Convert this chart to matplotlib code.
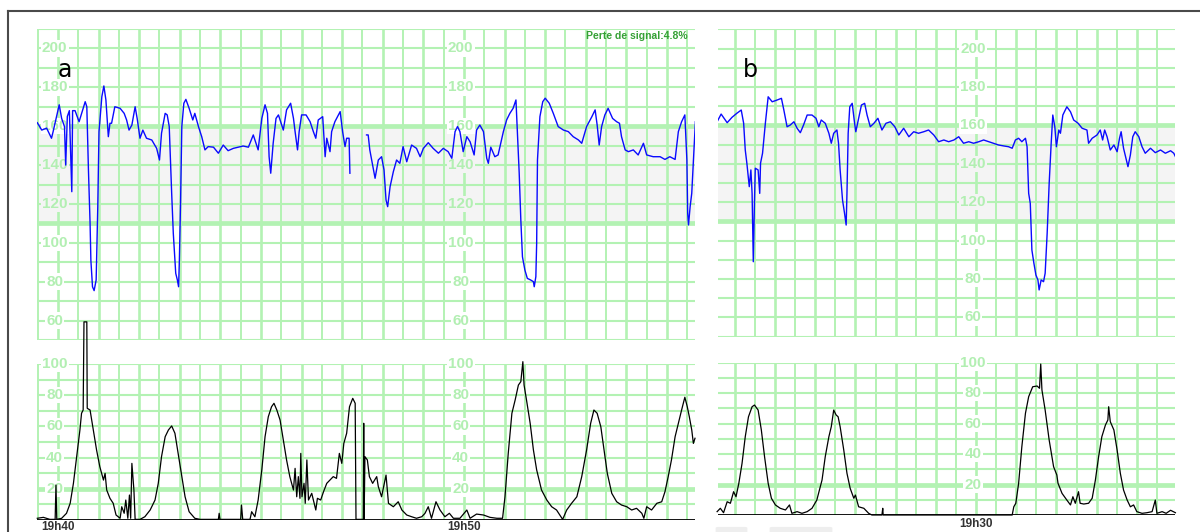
import numpy as np
import matplotlib
matplotlib.use('Agg')
import matplotlib.pyplot as plt
from matplotlib import transforms
from matplotlib.lines import Line2D
from matplotlib.patches import FancyBboxPatch

W, H = 1200, 532
GRID = '#b3f2b3'
LABEL = '#b2efb2'
BAND = '#f4f4f4'
FONT = 'Liberation Sans'

# ---- panel a : time in minutes after 19h40 ----
fhr_a_t = [-0.51, -0.40, -0.28, -0.16, -0.12, 0.03, 0.09, 0.16, 0.19, 0.19, 0.23, 0.28, 0.31, 0.34,
           0.36, 0.42, 0.52, 0.67, 0.71, 0.75, 0.79, 0.81, 0.85, 0.89, 0.94, 0.98, 1.01, 1.08, 1.13,
           1.18, 1.24, 1.28, 1.32, 1.40, 1.53, 1.63, 1.69, 1.75, 1.82, 1.90, 1.95, 2.02, 2.09, 2.18,
           2.31, 2.43, 2.50, 2.55, 2.64, 2.69, 2.74, 2.80, 2.84, 2.90, 2.94, 2.97, 2.99, 3.02, 3.05,
           3.10, 3.15, 3.23, 3.32, 3.37, 3.46, 3.54, 3.62, 3.70, 3.83, 3.95, 4.07, 4.19, 4.32, 4.44,
           4.56, 4.69, 4.81, 4.93, 5.02, 5.10, 5.16, 5.20, 5.24, 5.30, 5.37, 5.43, 5.51, 5.55, 5.63,
           5.73, 5.80, 5.84, 5.90, 5.94, 6.00, 6.11, 6.21, 6.29, 6.35, 6.41, 6.52, 6.58, 6.62, 6.70,
           6.74, 6.82, 6.95, 7.01, 7.07, 7.11, 7.17, 7.19, 7.40,
           7.60, 7.64, 7.68, 7.81, 7.89, 7.97, 8.03, 8.08, 8.12, 8.18, 8.26, 8.34, 8.42, 8.50, 8.59,
           8.71, 8.83, 8.92, 9.00, 9.12, 9.24, 9.37, 9.49, 9.61, 9.70, 9.78, 9.84, 9.90, 9.98, 10.07,
           10.15, 10.25, 10.31, 10.39, 10.48, 10.56, 10.60, 10.66, 10.76, 10.84, 10.97, 11.05, 11.13,
           11.21, 11.28, 11.31, 11.36, 11.40, 11.44, 11.50, 11.56, 11.64, 11.71, 11.73, 11.77, 11.79,
           11.81, 11.87, 11.94, 12.00, 12.10, 12.20, 12.32, 12.45, 12.57, 12.69, 12.82, 12.90, 13.02,
           13.15, 13.23, 13.28, 13.33, 13.39, 13.47, 13.55, 13.66, 13.76, 13.83, 13.88, 13.97, 14.05,
           14.17, 14.29, 14.42, 14.50, 14.66, 14.83, 14.95, 15.07, 15.20, 15.28, 15.36, 15.44, 15.49,
           15.51, 15.53, 15.57, 15.61, 15.66, 15.70]
fhr_a_v = [161.8, 158, 159, 153.8, 157.2, 171, 164, 159.8, 140, 140, 165, 168, 147.8, 126.3,
           168, 168, 162.3, 172.6, 170, 137.5, 110.2, 91, 77.4, 75.4, 80.9, 118.6, 157.2, 175.2, 180.7,
           173.5, 154.6, 161.5, 161.5, 170, 169.2, 166.6, 163.2, 158, 160.6, 170, 164, 153.8, 158, 153.8,
           152.9, 148.6, 142.6, 156.4, 166.6, 165.8, 159.8, 125.5, 104.9, 84.3, 80.9, 77.4, 91.1, 122, 159.8,
           171.8, 173.8, 169.2, 163.2, 166.6, 159.8, 154.6, 147.8, 149.5, 149.2, 146.1, 150.3, 147.4, 148.6, 149.2,
           149.8, 149.2, 155.5, 147.8, 164, 171, 166.6, 144.3, 135.8, 151.2, 164, 165.8, 160.6, 158, 168.4,
           171.8, 164, 157.2, 147.8, 157.2, 165.8, 165.8, 162.3, 157.2, 153.8, 163.2, 164.9, 144.3, 153.8, 146.9,
           157.2, 162.3, 167.5, 157.2, 149.5, 153.8, 153.8, 135.8, np.nan,
           155.5, 155.5, 147.8, 133.2, 142.6, 144.3, 137.5, 122, 118.6, 128.9, 136.6, 142.6, 140.9, 149.5, 141.7,
           150.3, 148.6, 144.3, 148.6, 151.5, 148.6, 146.1, 148.6, 146.9, 143.5, 157.2, 159.8, 157.2, 146.9, 154.6,
           152, 145.2, 158, 160.6, 157.2, 143.5, 140.9, 149.2, 144.3, 145.2, 157.2, 163.2, 166.6,
           169.2, 173.5, 159.8, 135.8, 111.7, 92.8, 86, 81.7, 80.9, 80, 77.4, 82.6, 99.7,
           142.6, 164.9, 172.6, 174.4, 171.8, 166.6, 159.8, 158, 157.2, 154.6, 152.9, 151.2, 159.8,
           164.9, 168.4, 160.6, 150.3, 159.8, 165.8, 169.2, 164, 162.3, 161.5, 154.6, 147.8, 146.9,
           147.8, 145.2, 151.2, 145.2, 144.3, 144.3, 142.9, 144.3, 142.9, 157.2, 162.3, 165.8, 142.6,
           115.2, 109.2, 118.6, 125.5, 146.1, 162.3]

uc_a_t = [-0.51, -0.36, -0.20, -0.07, -0.05, -0.03, 0.09, 0.21, 0.30, 0.38, 0.46, 0.54, 0.58, 0.62,
          0.64, 0.71, 0.72, 0.79, 0.87, 0.95, 1.03, 1.12, 1.16, 1.20, 1.28, 1.36, 1.43, 1.53, 1.57,
          1.63, 1.67, 1.72, 1.76, 1.79, 1.82, 1.87, 1.90, 2.02, 2.14, 2.27, 2.39, 2.47, 2.55, 2.64,
          2.72, 2.80, 2.88, 2.96, 3.05, 3.13, 3.23, 3.37, 3.50, 3.95, 3.97, 3.99, 4.50, 4.52, 4.55,
          4.73, 4.77, 4.85, 4.93, 5.02, 5.10, 5.18, 5.26, 5.32, 5.39, 5.47, 5.55, 5.63, 5.71, 5.80,
          5.84, 5.88, 5.92, 5.96, 5.98, 6.01, 6.06, 6.09, 6.13, 6.17, 6.25, 6.31, 6.35, 6.39, 6.47,
          6.54, 6.62, 6.70, 6.78, 6.86, 6.93, 6.99, 7.04, 7.11, 7.18, 7.26, 7.32, 7.34, 7.52, 7.53,
          7.54, 7.56, 7.62, 7.67, 7.75, 7.85, 7.89, 7.97, 8.08, 8.14, 8.26, 8.38, 8.47, 8.59, 8.71,
          8.83, 8.96, 9.04, 9.12, 9.20, 9.31, 9.41, 9.53, 9.64, 9.74, 9.90, 10.07, 10.15, 10.31,
          10.48, 10.64, 10.81, 10.95, 11.01, 11.09, 11.18, 11.26, 11.34, 11.40, 11.45, 11.48, 11.54,
          11.63, 11.71, 11.79, 11.91, 12.04, 12.16, 12.28, 12.43, 12.53, 12.65, 12.78, 12.90, 13.02,
          13.12, 13.20, 13.28, 13.37, 13.45, 13.53, 13.64, 13.76, 13.88, 14.01, 14.13, 14.25, 14.38,
          14.43, 14.50, 14.62, 14.75, 14.87, 14.95, 15.03, 15.11, 15.20, 15.28, 15.36, 15.44, 15.50,
          15.55, 15.61, 15.65, 15.69]
uc_a_v = [1.1, 1.7, 0.4, 0.4, 22.4, 0.4, 1.1, 4.3, 10.7, 23.5, 40.6, 57.7, 68.4, 70.5,
          127, 127, 71.6, 70.5, 57.7, 44.9, 34.2, 25.6, 29.9, 19.2, 13.9, 10.7, 3.2, 1.1, 8.5,
          4.3, 12.8, 1.1, 16, 1.1, 36.3, 19.2, 0.4, 0.4, 2.1, 6.4, 12.8, 23.5, 40.6, 53.4,
          57.7, 60.3, 55.6, 42.7, 27.8, 14.9, 5.3, 1.1, 0.4, 0.4, 4.3, 0.4, 0.4, 9.6, 0.4,
          0.4, 5.3, 2.1, 12.8, 32.1, 53.4, 66.2, 72.6, 74.8, 70.5, 64.1, 51.3, 38.5, 27.8, 19.2,
          33.1, 14.9, 27.8, 13.9, 42.7, 14.9, 23.5, 10.7, 38.5, 12.8, 17.1, 10.7, 6.4, 13.9, 12.8,
          18.1, 23.5, 25.6, 27.8, 26.7, 42.7, 36.3, 49.1, 55.6, 72.6, 78, 74.8, 0.4, 0.4, 62,
          0.4, 40.6, 38.5, 27.8, 23.5, 27.8, 21.4, 14.9, 28.8, 10.7, 8.5, 11.7, 6.4, 3.2, 2.1,
          1.1, 2.1, 4.3, 8.5, 1.1, 11.7, 6.4, 2.1, 4.3, 1.1, 1.1, 6.4, 1.1, 3.8,
          3.2, 1.7, 1.1, 1.1, 14.9, 42.7, 68.4, 76.9, 86.5, 88.7, 101.5, 86.5, 76.9,
          62, 44.9, 32.1, 19.2, 12.8, 8.5, 6.4, 0.4, 6.4, 10.7, 14.9, 27.8, 44.9,
          62, 70.5, 68.4, 59.8, 44.9, 29.9, 17.1, 11.7, 9.6, 8.5, 6.4, 7.5, 4.3,
          1.1, 8.5, 6.4, 10.7, 11.7, 18.1, 27.8, 38.5, 53.4, 62, 70.5, 78.7, 72.6,
          66.2, 57.7, 49.1, 52.4]

# ---- panel b : time in minutes relative to 19h30 ----
fhr_b_t = [-6.44, -6.34, -6.19, -6.07, -5.95, -5.84, -5.78, -5.74, -5.70, -5.64, -5.60, -5.57, -5.54,
           -5.51, -5.49, -5.42, -5.38, -5.36, -5.31, -5.24, -5.17, -5.07, -4.95, -4.84, -4.78, -4.70,
           -4.62, -4.53, -4.45, -4.37, -4.29, -4.20, -4.08, -3.98, -3.91, -3.85, -3.75, -3.66, -3.60,
           -3.54, -3.46, -3.42, -3.38, -3.32, -3.27, -3.23, -3.21, -3.18, -3.14, -3.08, -3.02, -2.99,
           -2.92, -2.85, -2.77, -2.71, -2.63, -2.54, -2.44, -2.34, -2.24, -2.13, -2.02, -1.92, -1.80,
           -1.67, -1.55, -1.43, -1.30, -1.18, -1.05, -0.93, -0.80, -0.68, -0.55, -0.43, -0.31, -0.18,
           -0.06, 0.07, 0.19, 0.32, 0.44, 0.56, 0.69, 0.81, 0.90, 0.98, 1.06, 1.14, 1.23, 1.27,
           1.31, 1.35, 1.39, 1.44, 1.49, 1.54, 1.57, 1.62, 1.68, 1.72, 1.77, 1.82, 1.87, 1.91,
           1.96, 2.00, 2.06, 2.10, 2.16, 2.26, 2.35, 2.43, 2.54, 2.64, 2.76, 2.80, 2.89, 3.01,
           3.09, 3.15, 3.20, 3.26, 3.34, 3.43, 3.51, 3.57, 3.61, 3.67, 3.73, 3.78, 3.84, 3.90,
           3.96, 4.05, 4.13, 4.21, 4.34, 4.46, 4.59, 4.71, 4.84, 4.92, 4.98]
fhr_b_v = [161.9, 165.9, 161.4, 164.2, 166.3, 168, 161.1, 147.2, 140.3, 128.1, 136.8, 124.6, 89,
           121.1, 137.7, 136.8, 124.6, 140.3, 145.5, 161.1, 174.9, 172.3, 173.2, 174.1, 168, 159.3,
           160.2, 161.9, 158.5, 156.2, 160.2, 165.4, 165.4, 163.7, 159.3, 162.8, 161.1, 155.9, 150.7,
           155.9, 157.6, 150.7, 136.8, 121.1, 114.2, 108.1, 124.6, 155.9, 169.7, 171.5, 161.1, 156.7,
           163.7, 170.6, 171.5, 165.4, 159.3, 161.1, 163.7, 157.6, 161.1, 161.9, 159.3, 155, 158.5,
           154.1, 156.7, 155.9, 156.7, 157.6, 155, 151.5, 152.4, 151.5, 152.4, 154.1, 150.7, 151.5,
           150.7, 151.5, 152.4, 151.5, 150.7, 149.8, 149.3, 148.9, 148.1, 152.4, 153.3, 151.5, 153.3, 148.9,
           124.6, 119.4, 95.1, 88.2, 82.1, 79.5, 74.3, 79.5, 78.6, 83, 103.8, 129.8, 150.7, 165.4,
           159.3, 148.9, 157.6, 155.9, 165.4, 169.7, 167.1, 162.8, 161.1, 158.5, 157.6, 150.7, 153.3, 155,
           157.6, 152.4, 157.6, 154.1, 147.2, 149.8, 146.3, 153.3, 156.7, 148.1, 142.9, 138.5, 144.6, 154.1,
           156.7, 154.1, 148.9, 145.5, 148.1, 145.8, 147.2, 145.5, 146.8, 145.5, 142.9]

uc_b_t = [-6.44, -6.36, -6.28, -6.19, -6.11, -6.03, -5.97, -5.90, -5.82, -5.74, -5.66, -5.57, -5.51,
          -5.42, -5.34, -5.26, -5.17, -5.09, -4.99, -4.87, -4.74, -4.64, -4.58, -4.45, -4.33, -4.20,
          -4.08, -3.96, -3.83, -3.75, -3.66, -3.60, -3.54, -3.48, -3.43, -3.38, -3.29, -3.21, -3.13,
          -3.04, -3.00, -2.92, -2.79, -2.67, -2.59, -2.34, -2.32, -2.31, 0.90, 0.94, 0.99, 1.06,
          1.14, 1.23, 1.31, 1.41, 1.52, 1.58, 1.61, 1.64, 1.72, 1.82, 1.93, 2.01, 2.04, 2.14,
          2.26, 2.35, 2.41, 2.47, 2.55, 2.59, 2.68, 2.80, 2.89, 2.97, 3.05, 3.13, 3.22, 3.28,
          3.30, 3.34, 3.43, 3.51, 3.59, 3.67, 3.76, 3.84, 3.92, 4.00, 4.13, 4.25, 4.38, 4.46,
          4.50, 4.63, 4.73, 4.84, 4.96]
uc_b_v = [2.2, 4.4, 1.5, 8.7, 7.7, 15.3, 12, 20.8, 33.9, 51.4, 64.5, 71.1, 72.2,
          68.9, 55.8, 38.3, 20.8, 11, 6.6, 4.4, 3.3, 6.6, 1.1, 2.2, 1.1, 2.2,
          4.4, 9.8, 23, 38.3, 51.4, 58, 68.9, 65.7, 64.5, 58, 42.7, 27.4, 17.5,
          11, 13.1, 5.4, 4.4, 1.1, 0, 0, 4.4, 0, 0, 5.4, 7.7, 20.8,
          44.8, 66.8, 77.7, 84.2, 84.7, 83.2, 99.1, 82.1, 68.9, 49.2, 31.7, 26.3, 20.8, 14.2,
          9.8, 6.6, 12, 7.7, 15.3, 7.7, 7.2, 7.7, 11, 23, 38.3, 51.4, 59.1, 62.4,
          71.1, 61.3, 55.8, 42.7, 27.4, 16.4, 9.8, 5.4, 6.6, 2.2, 1.1, 1.5, 2.2, 9.8,
          1.1, 2.2, 1.1, 3.1, 1.5]

fhr_labels = [60, 80, 100, 120, 140, 160, 180, 200]
uc_labels = [20, 40, 60, 80, 100]
fhr_lines = list(range(50, 211, 10))
uc_lines = list(range(10, 101, 10))
marks_a = [0, 10]
names_a = ['19h40', '19h50']
marks_b = [0]
names_b = ['19h30']
signal_note = 'Perte de signal:4.8%'


def rect(x0, y0, x1, y1):
    return [x0 / W, 1 - y1 / H, (x1 - x0) / W, (y1 - y0) / H]


def draw_grid(ax, xlim, hlines, thick):
    t = np.ceil(xlim[0] * 2) / 2
    while t < xlim[1]:
        ax.axvline(t, color=GRID, lw=1.9 if t % 1 == 0 else 1.4, zorder=1)
        t += 0.5
    for y in hlines:
        ax.axhline(y, color=GRID, lw=3.4 if y in thick else 1.5, zorder=1)


def draw_labels(ax, marks, values, band=None):
    for m in marks:
        for v in values:
            fc = BAND if band and band[0] < v < band[1] else 'white'
            ax.text(m - 0.08, v, str(v), ha='center', va='center', fontsize=11,
                    fontweight='bold', color=LABEL, family=FONT, zorder=3,
                    bbox=dict(boxstyle='square,pad=0.08', fc=fc, ec='none'))


def panel(fig, fhr_box, uc_box, xlim, fhr_t, fhr_v, uc_t, uc_v, marks, names,
          letter, letter_x, name_y):
    ax = fig.add_axes(rect(*fhr_box))
    ax.set_xlim(*xlim)
    ax.set_ylim(50, 210)
    ax.set_axis_off()
    ax.axhspan(110, 160, color=BAND, zorder=0, lw=0)
    draw_grid(ax, xlim, fhr_lines, (110, 160))
    draw_labels(ax, marks, fhr_labels, band=(110, 160))
    ax.plot(fhr_t, fhr_v, color='#0a0aff', lw=1.0, zorder=4)
    ax.text(letter_x, 0.845, letter, transform=ax.transAxes,
            fontsize=17, family='DejaVu Sans', color='black', ha='center', va='baseline')

    ux = fig.add_axes(rect(*uc_box))
    ux.set_xlim(*xlim)
    ux.set_ylim(0, 100)
    ux.set_axis_off()
    draw_grid(ux, xlim, uc_lines, (20,))
    ux.axhline(0, color='black', lw=1.3, zorder=2)
    draw_labels(ux, marks, uc_labels)
    ux.plot(uc_t, uc_v, color='black', lw=0.9, zorder=4, clip_on=False)

    tr = transforms.blended_transform_factory(ux.transData, fig.transFigure)
    for m, n in zip(marks, names):
        ux.text(m, 1 - name_y / H, n, transform=tr, ha='center', va='top', fontsize=8.5,
                fontweight='bold', color='#333333', family=FONT)
    return ax, ux


fig = plt.figure(figsize=(W / 100, H / 100), dpi=100)

ax_a, ux_a = panel(fig, (37, 29, 695, 340), (37, 364, 695, 520), (-0.517, 15.69),
                   fhr_a_t, fhr_a_v, uc_a_t, uc_a_v, marks_a, names_a, 'a', 0.043, 520.5)
ax_b, ux_b = panel(fig, (718, 29.4, 1175, 336.6), (718, 362.7, 1175, 515), (-6.418, 4.95),
                   fhr_b_t, fhr_b_v, uc_b_t, uc_b_v, marks_b, names_b, 'b', 0.07, 518)

fig.text(688 / W, 1 - 36 / H, signal_note, ha='right', va='center', fontsize=7.5,
         fontweight='bold', color='#35a035', family=FONT)

# outer frame (top and left edges only are visible)
fig.add_artist(Line2D([8 / W, 8 / W], [0, 1 - 10.5 / H], transform=fig.transFigure,
                      color='#4a4a4a', lw=1.5))
fig.add_artist(Line2D([8 / W, 1], [1 - 10.5 / H, 1 - 10.5 / H], transform=fig.transFigure,
                      color='#4a4a4a', lw=1.5))

# faint cut-off marks under panel b
for x0, x1 in [(718, 745), (772, 830)]:
    fig.add_artist(FancyBboxPatch((x0 / W, 0), (x1 - x0) / W, 4 / H,
                                  boxstyle='round,pad=0.002', transform=fig.transFigure,
                                  fc='#eeeeee', ec='none'))

fig.savefig('out.png', dpi=100)
